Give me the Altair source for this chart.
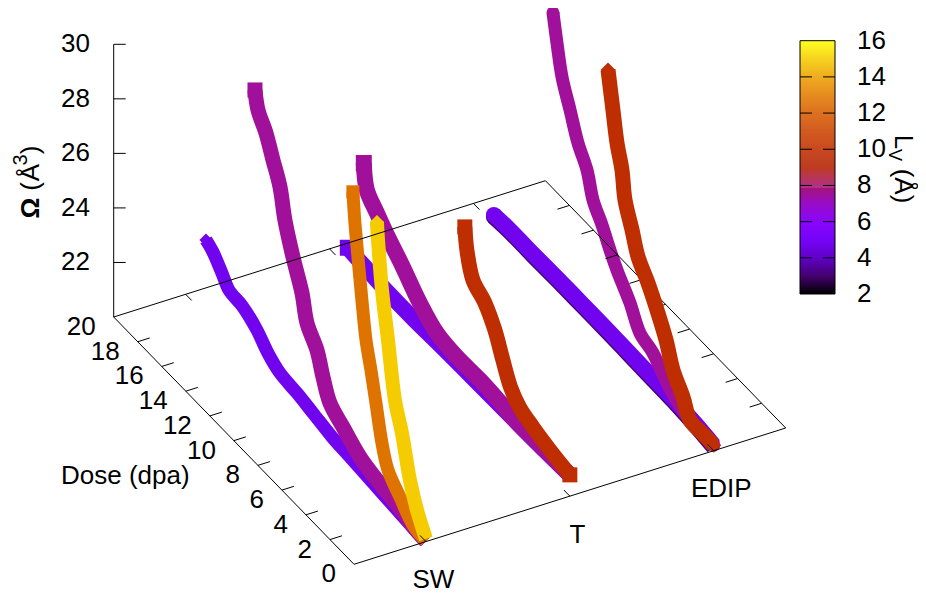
import altair as alt
import pandas as pd

# ---- colour palette of the colour bar (Lv value -> colour)
PAL_V = [2, 3, 4, 5, 6, 7, 8, 9, 10, 11, 12, 13, 14, 15, 16]
PAL_C = ["#000000", "#44006f", "#6001c7", "#7603f9", "#8806f9", "#980cc7", "#a7146f", "#b42000",
         "#c03000", "#cc4400", "#d75d00", "#e27c00", "#eca000", "#f5cc00", "#ffff00"]

MODELS = ["SW", "T", "EDIP"]
DOSE_TICKS = [0, 2, 4, 6, 8, 10, 12, 14, 16, 18, 20]
OMEGA_TICKS = [22, 24, 26, 28, 30]
OMEGA_LABELS = [20, 22, 24, 26, 28, 30]
CB_TICKS = [2, 4, 6, 8, 10, 12, 14, 16]

# ---- curves: model index, Lv, width, end marker, dose, omega
sw_blue_d = [0, .75, 2.41, 4.41, 6.33, 7.82, 9.41, 10.74, 12.15, 13.15, 14.07, 15.23, 16.4, 16.98, 17.73, 18.31]
sw_blue_o = [20.02, 20.0, 20.07, 20.15, 20.23, 20.29, 20.45, 20.58, 20.67, 20.95, 21.38, 21.7, 21.79, 22.15, 22.58, 22.76]
sw_purple_d = [0, .75, 2.41, 4.08, 5.49, 6.91, 7.99, 8.57, 9.07, 9.9, 10.32, 11.07, 11.74, 12.15, 12.73, 13.32, 13.98, 14.23]
sw_purple_o = [20.02, 20.05, 20.25, 20.41, 20.61, 21.07, 21.46, 22.15, 22.91, 23.52, 24.44, 25.42, 26.47, 27.5, 28.22, 28.95, 29.49, 30.11]
sw_orange_d = [0, 1.08, 2.16, 3.16, 3.66, 4.16, 4.58, 4.99, 5.33, 5.66, 5.91, 6.08]
sw_orange_o = [20.02, 20.12, 20.65, 21.19, 21.95, 23.19, 24.22, 25.13, 26.44, 27.87, 29.0, 30.07]
sw_yellow_d = [0, .75, 1.33, 2.0, 2.58, 3.16, 3.66, 3.99, 4.08]
sw_yellow_o = [20.1, 20.82, 21.65, 23.08, 24.02, 25.96, 27.57, 29.25, 29.87]

t_blue_d = [0, 2.75, 5, 7.5, 10.5, 13, 15, 17.06, 18.48]
t_blue_o = [20.78, 20.72, 20.7, 20.68, 20.65, 20.6, 20.6, 20.67, 20.73]
t_purple_d = [0, 2.5, 4.41, 5.83, 7.49, 9.4, 11.07, 12.48, 13.98, 15.15, 16.06, 16.9, 17.15]
t_purple_o = [20.78, 20.75, 20.72, 20.81, 20.87, 20.84, 20.96, 21.42, 22.14, 22.64, 23.1, 23.57, 24.44]
t_red_d = [0, 1.66, 3.08, 4.16, 4.91, 5.58, 6.24, 7.07, 8.07, 8.57, 8.74]
t_red_o = [20.78, 20.94, 21.14, 21.35, 21.74, 22.47, 23.26, 23.88, 24.27, 25.14, 25.91]

e_dark_d = [0, 1.5, 3, 5, 7, 9, 11, 13, 15, 17, 18.3]
e_dark_o = [20.13, 20.23, 20.29, 20.31, 20.33, 20.35, 20.35, 20.35, 20.33, 20.33, 20.28]
e_blue_d = [0, 1.5, 3, 5, 7, 9, 11, 13, 15, 17, 18.3]
e_blue_o = [20.2, 20.3, 20.36, 20.38, 20.4, 20.42, 20.42, 20.42, 20.4, 20.4, 20.35]
e_purple_d = [0, 1.14, 2.56, 3.89, 5.06, 6.14, 6.97, 8.05, 8.63, 9.3, 10.05, 10.55, 11.3, 11.96, 12.63, 13.05, 13.38]
e_purple_o = [20.2, 20.2, 20.3, 20.72, 21.29, 21.53, 22.26, 22.97, 23.44, 24.06, 24.64, 25.51, 26.16, 27.07, 27.98, 29.04, 29.99]
e_red_d = [0, .89, 1.98, 2.56, 3.39, 3.97, 4.64, 5.47, 6.3, 6.8, 7.39, 7.64, 8.05, 8.39, 8.8]
e_red_o = [20.2, 20.21, 20.23, 20.81, 21.42, 22.26, 22.94, 23.67, 24.25, 25.01, 25.85, 26.83, 27.63, 28.69, 29.97]

CURVES_BACK = [
    (3, 3.0, 16, "circle", e_dark_d, e_dark_o),
    (3, 4.8, 16, "circle", e_blue_d, e_blue_o),
    (3, 7.5, 13, "circle", e_purple_d, e_purple_o),
]
CURVES_MID = [(3, 9.9, 15, "diamond", e_red_d, e_red_o)]
CURVES_FRONT = [
    (2, 4.8, 16, "square", t_blue_d, t_blue_o),
    (2, 7.5, 16, "square", t_purple_d, t_purple_o),
    (2, 9.9, 15, "square", t_red_d, t_red_o),
    (1, 4.8, 13, "diamond", sw_blue_d, sw_blue_o),
    (1, 7.5, 15, "square", sw_purple_d, sw_purple_o),
    (1, 12.7, 13, "square", sw_orange_d, sw_orange_o),
    (1, 15.0, 14, "diamond", sw_yellow_d, sw_yellow_o),
]

# ---- projection of the 3D box on the page
FX, FY = 354.0, 564.3      # front corner (model low, dose 0, omega 20)
MX, MY = 431.7, -136.3     # whole model axis (0.5 .. 3.5)
DX, DY = -240.3, -247.3    # whole dose axis (0 .. 20)
ZY = -27.27                # px per omega unit


def px(m, d, o=20.0):
    return FX + MX * (m - 0.5) / 3 + DX * d / 20


def py(m, d, o=20.0):
    return FY + MY * (m - 0.5) / 3 + DY * d / 20 + ZY * (o - 20)


xs = alt.Scale(domain=[8, 918], nice=False, zero=False)
ys = alt.Scale(domain=[594, 8], nice=False, zero=False)
X = alt.X("sx:Q", scale=xs, axis=None)
Y = alt.Y("sy:Q", scale=ys, axis=None)
FONT = "Liberation Sans"
FS = 26

cscale = alt.Scale(domain=PAL_V, range=PAL_C, nice=False, zero=False, interpolate="rgb")
color = alt.Color("Lv:Q", scale=cscale, legend=None)

# ---- colour bar drawn through the colour scale
CB_TOP, CB_BOT = 40.7, 294.0
CB_L, CB_R = 800, 835
n_cells = 253
cb_rows = []
for k in range(n_cells):
    y0 = CB_BOT - (CB_BOT - CB_TOP) * k / n_cells
    y1 = CB_BOT - (CB_BOT - CB_TOP) * (k + 1.3) / n_cells
    cb_rows.append({"sx": CB_L, "sx2": CB_R, "sy": y0, "sy2": max(y1, CB_TOP), "Lv": 2 + 14 * (k + .5) / n_cells})
colorbar = alt.Chart(pd.DataFrame(cb_rows)).mark_rect().encode(
    x=X, x2="sx2:Q", y=Y, y2="sy2:Q", color=color)


def curve_layers(curves):
    out = []
    for k, (m, lv, w, shape, ds, os_) in enumerate(curves):
        df = pd.DataFrame({
            "sx": [px(m, d) for d in ds],
            "sy": [py(m, d, o) for d, o in zip(ds, os_)],
            "Lv": lv,
            "i": range(len(ds)),
        })
        out.append(alt.Chart(df).mark_line(strokeWidth=w, strokeJoin="round", strokeCap="butt",
                                           interpolate="catmull-rom")
                   .encode(x=X, y=Y, color=color, order="i:Q"))
        both_ends = lv == 9.9 or (m == 3 and lv == 7.5)
        ends = pd.concat([df.head(1), df.tail(1)]) if both_ends else df.tail(1)
        out.append(alt.Chart(ends).mark_point(filled=True, opacity=1, shape=shape, size=w * w)
                   .encode(x=X, y=Y, color=color))
    return out


def segs(lst):
    """lst of ((x0,y0),(x1,y1)) page positions computed from the projection -> line layer"""
    rows = []
    for k, (a, b) in enumerate(lst):
        rows.append({"sx": a[0], "sy": a[1], "g": k, "i": 0})
        rows.append({"sx": b[0], "sy": b[1], "g": k, "i": 1})
    return alt.Chart(pd.DataFrame(rows)).mark_line(color="black", strokeWidth=1).encode(
        x=X, y=Y, detail="g:N", order="i:Q")


def P(m, d, o=20.0):
    return (px(m, d, o), py(m, d, o))


# right edge with its mirrored dose ticks
right = [(P(3.5, 0), P(3.5, 20))]
for d in DOSE_TICKS[1:-1]:
    right.append((P(3.5, d), P(3.5 - 0.0833, d)))

# other edges and ticks
other = [(P(.5, 0), P(3.5, 0)), (P(.5, 0), P(.5, 20)), (P(.5, 20), P(3.5, 20))]
for d in DOSE_TICKS[1:-1]:
    other.append((P(.5, d), P(.5 + 0.0833, d)))
for m in (1, 2, 3):
    other.append((P(m, 0), P(m, 0.5)))
    other.append((P(m, 20), P(m, 19.5)))

z0 = P(.5, 20)
zaxis = [((z0[0], z0[1]), (z0[0], py(.5, 20, 30)))]
for o in OMEGA_TICKS:
    zaxis.append(((z0[0], py(.5, 20, o)), (z0[0] + 12, py(.5, 20, o))))

# colour-bar frame and inner ticks
cbt = [((CB_L, CB_TOP), (CB_R, CB_TOP)), ((CB_L, CB_BOT), (CB_R, CB_BOT)),
       ((CB_L, CB_TOP), (CB_L, CB_BOT)), ((CB_R, CB_TOP), (CB_R, CB_BOT))]
for v in CB_TICKS[1:-1]:
    yy = CB_BOT - (v - 2) / 14 * (CB_BOT - CB_TOP)
    cbt.append(((CB_L, yy), (CB_L + 12, yy)))
    cbt.append(((CB_R - 12, yy), (CB_R, yy)))


def text(rows, align="center", angle=0, size=FS, weight="normal"):
    df = pd.DataFrame(rows, columns=["sx", "sy", "t"])
    return alt.Chart(df).mark_text(font=FONT, fontSize=size, align=align, baseline="middle",
                                   angle=angle, color="black", fontWeight=weight).encode(
        x=X, y=Y, text="t:N")


t_omega = text([(90, py(.5, 20, o), str(o)) for o in OMEGA_LABELS[1:]], align="right")
t_dose = text([(px(.5, d) - 18, py(.5, d) + 10, str(d)) for d in DOSE_TICKS], align="right")
t_model = text([(px(m + 1, 0) + 7.5, py(m + 1, 0) + 38.5, n) for m, n in enumerate(MODELS)])
t_xlab = text([(61, 475.5, "Dose (dpa)")], align="left")
t_om = text([(30.7, 208, "\u03a9")], angle=270, weight="bold")
t_p1 = text([(30.7, 186.5, "(")], angle=270)
t_ang = text([(30.7, 172.5, "\u00c5")], angle=270)
t_sup = text([(21, 160, "3")], angle=270, size=20)
t_p2 = text([(30.7, 150, ")")], angle=270)
t_l = text([(903, 142, "L")], angle=90)
t_v = text([(894.4, 155, "V")], angle=90, size=18)
t_a = text([(903, 186, "(\u00c5)")], angle=90)
t_cb = text([(857, CB_BOT - (v - 2) / 14 * (CB_BOT - CB_TOP), str(v)) for v in CB_TICKS], align="left")

layers = []
layers += curve_layers(CURVES_BACK)
layers.append(segs(right))
layers += curve_layers(CURVES_MID)
layers += curve_layers(CURVES_FRONT)
layers += [segs(other), segs(zaxis), colorbar, segs(cbt)]
layers += [t_omega, t_dose, t_model, t_xlab, t_om, t_p1, t_ang, t_sup, t_p2, t_l, t_v, t_a, t_cb]

chart = alt.layer(*layers).properties(
    width=910, height=586, autosize=alt.AutoSizeParams(type="none"), padding=0
).configure_view(stroke=None)

chart.save("out.html", embed_options={"renderer": "svg", "actions": False})
